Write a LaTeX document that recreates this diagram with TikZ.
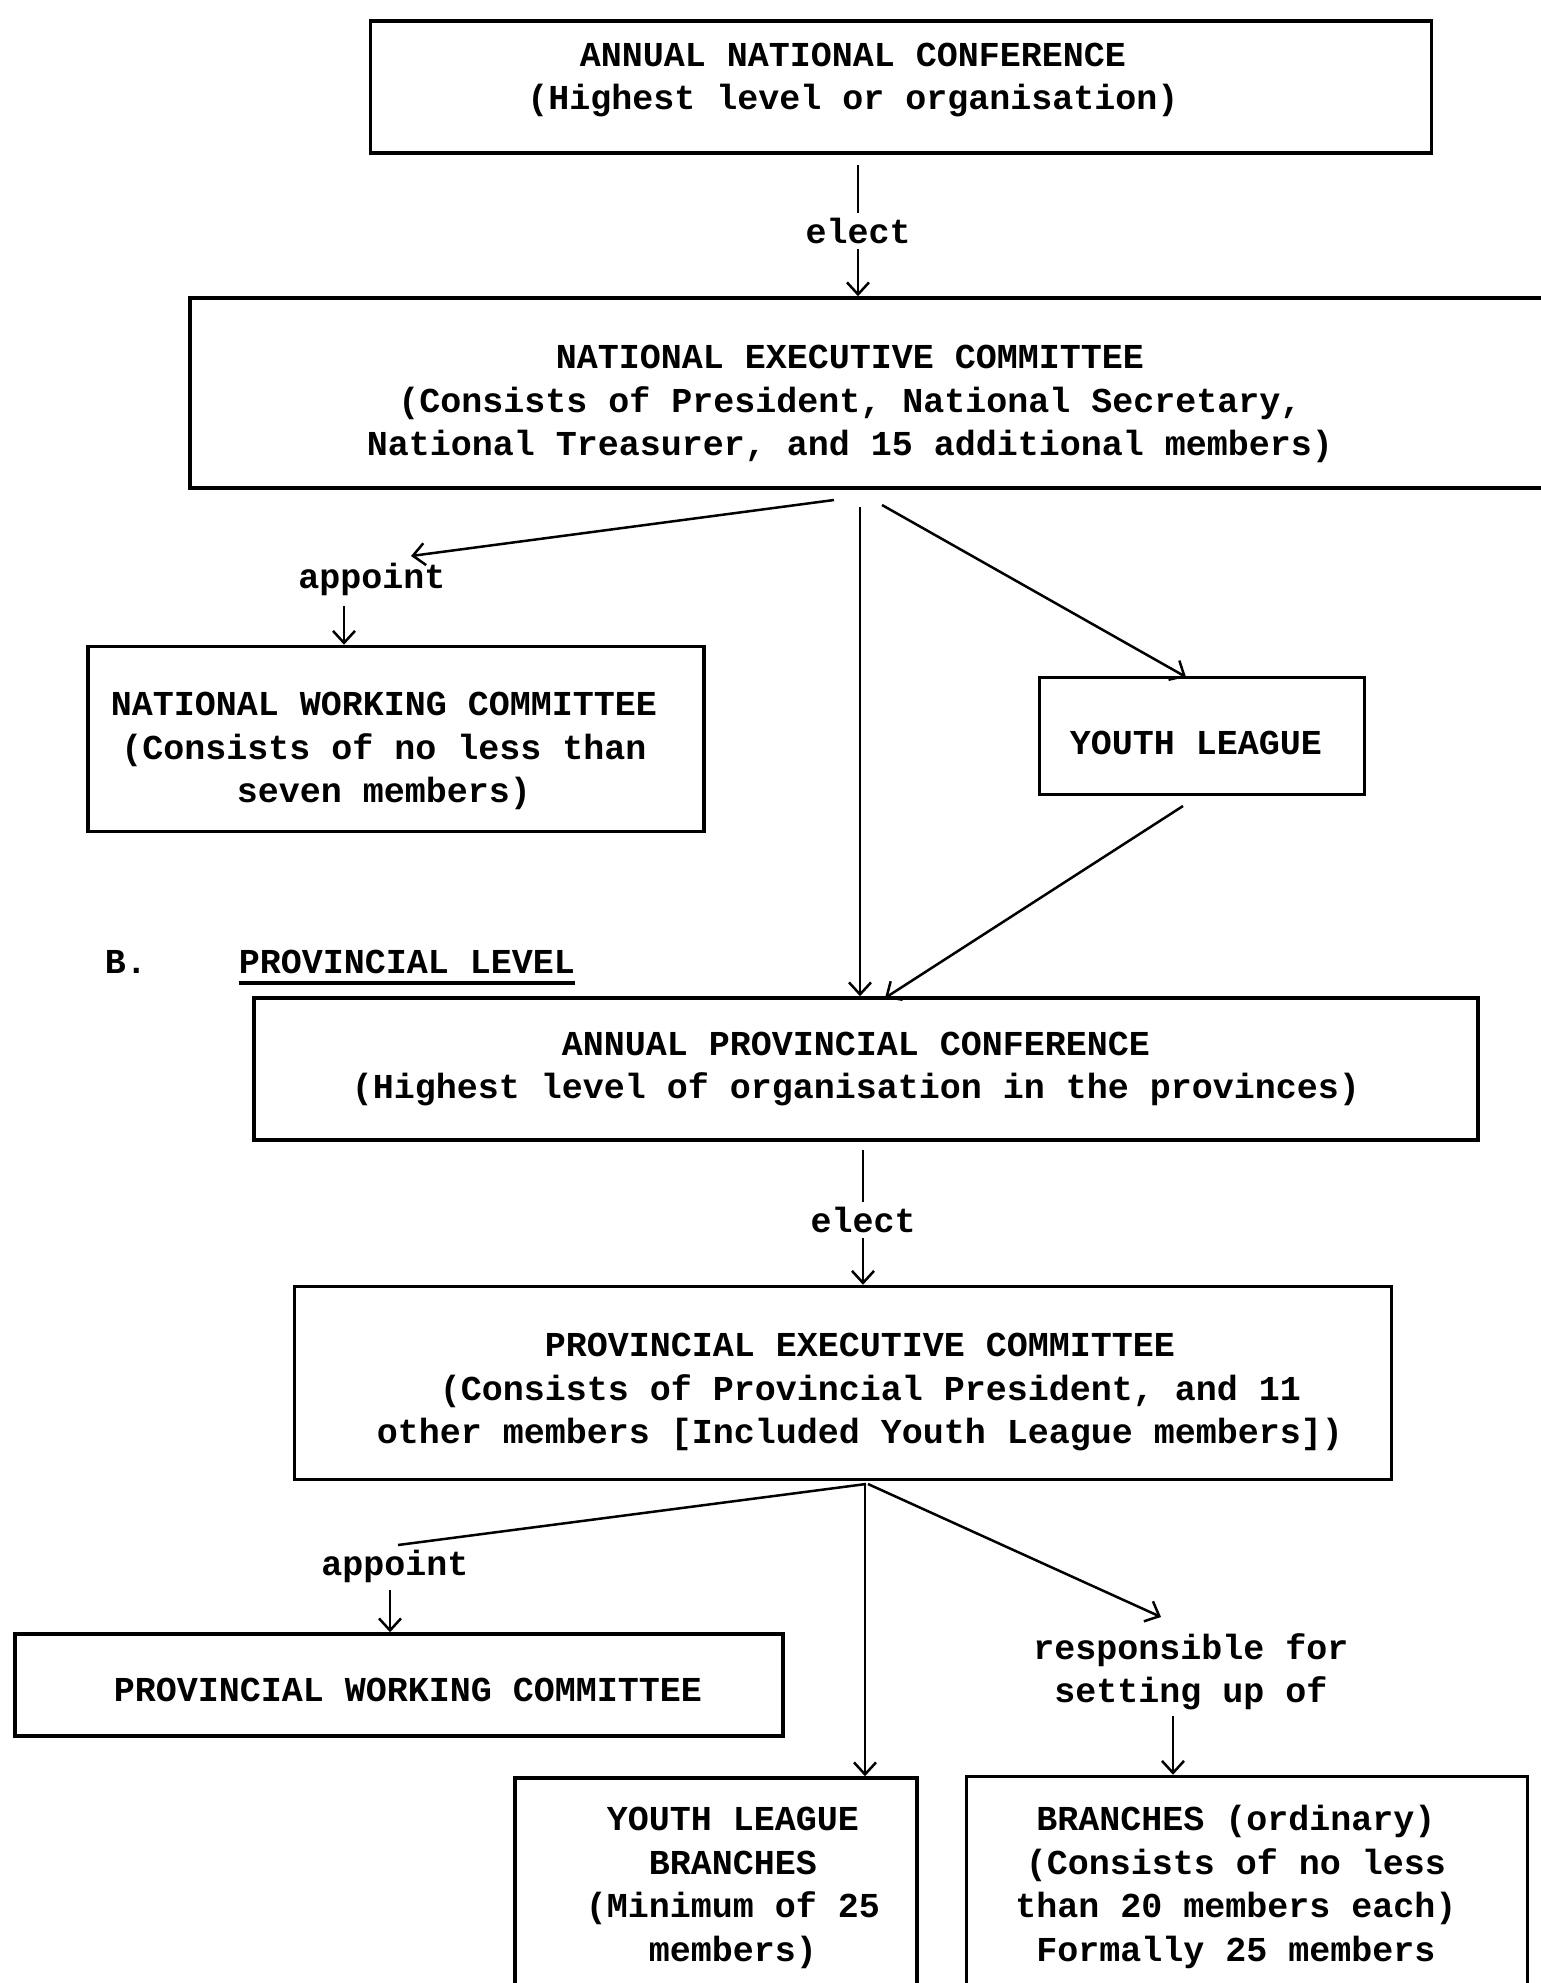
\documentclass[tikz,border=0pt]{standalone}
\usepackage{fontspec}
\newfontfamily\typefont{Liberation Mono}
\usetikzlibrary{arrows.meta, calc, positioning}
\newcommand{\orgfont}{\typefont\bfseries\fontsize{35}{43.5}\selectfont}
\tikzset{
    orgBox/.style={draw, rectangle, line width=3.5pt, inner sep=0pt},
    orgText/.style={font=\orgfont, align=center, inner sep=0pt},
    orgLabel/.style={font=\orgfont, align=center, inner sep=5pt},
    orgLine/.style={line width=2.5pt},
    orgEdge/.style={-{Straight Barb[length=12pt, width=22pt, line width=2.5pt]}, line width=2.5pt},
}
% box with its own text node: name, centre, width, height, text centre, text
\newcommand{\orgUnit}[6]{
    \node[orgBox, minimum width=#3pt, minimum height=#4pt] (#1) at (#2) {};
    \node[orgText] (#1T) at (#5) {#6};
}
\begin{document}
\begin{tikzpicture}[x=1pt, y=-1pt]
        \useasboundingbox (0,0) rectangle (1541,1983);

        % national level
        \orgUnit{anc}{901,87}{1061}{132}{853,80}{ANNUAL NATIONAL CONFERENCE\\(Highest level or organisation)}
        \orgUnit{nec}{875,393}{1370}{190}{850,404}{NATIONAL EXECUTIVE COMMITTEE\\(Consists of President, National Secretary,\\National Treasurer, and 15 additional members)}
        \orgUnit{nwc}{396,739}{616}{185}{384,751}{NATIONAL WORKING COMMITTEE\\(Consists of no less than\\seven members)}
        \orgUnit{yl}{1202,736}{325}{117}{1196,743}{YOUTH LEAGUE}

        \node[orgLabel] (elect1) at (858,231) {elect};
        \node[orgLabel] (appoint1) at (372,579) {appoint};

        \coordinate (ancOut) at (858,165);
        \coordinate (necOut1) at (834,500);
        \coordinate (necOut2) at (860,507);
        \coordinate (necOut3) at (882,505);
        \coordinate (appIn1) at (411,556);
        \coordinate (appOut1) at (344,606);
        \coordinate (ylIn) at (1186,677);
        \coordinate (ylOut) at (1183,806);
        \coordinate (apcIn) at (885,998);

        \draw[orgLine] (ancOut) -- (elect1.north);
        \draw[orgEdge] (elect1.south) -- (elect1.south |- nec.north);
        \draw[orgEdge] (necOut1) -- (appIn1);
        \draw[orgEdge] (appOut1) -- (appOut1 |- nwc.north);
        \draw[orgEdge] (necOut3) -- (ylIn);

        % provincial level
        \node[orgText] (secB) at (126,962) {B.};
        \node[orgText] (secBT) at (407,962) {PROVINCIAL LEVEL};
        \draw[line width=3.5pt] ([yshift=-9pt]secBT.south west) -- ([yshift=-9pt]secBT.south east);

        \orgUnit{apc}{866,1069}{1224}{142}{856,1069}{ANNUAL PROVINCIAL CONFERENCE\\(Highest level of organisation in the provinces)}
        \orgUnit{pec}{843,1383}{1097}{193}{860,1392}{PROVINCIAL EXECUTIVE COMMITTEE\\\ (Consists of Provincial President, and 11\\other members [Included Youth League members])}
        \orgUnit{pwc}{399,1685}{768}{102}{408,1690}{PROVINCIAL WORKING COMMITTEE}
        \orgUnit{ylb}{716,1899}{402}{242}{733,1888}{YOUTH LEAGUE\\BRANCHES\\(Minimum of 25\\members)}
        \orgUnit{br}{1247,1898}{561}{243}{1236,1887}{BRANCHES (ordinary)\\(Consists of no less\\than 20 members each)\\Formally 25 members}

        \draw[orgEdge] (necOut2) -- (necOut2 |- apc.north);
        \draw[orgEdge] (ylOut) -- (apcIn);

        \node[orgLabel] (elect2) at (863,1220) {elect};
        \node[orgLabel] (appoint2) at (395,1566) {appoint};
        \node[orgLabel] (resp) at (1191,1672) {responsible for\\setting up of};

        \coordinate (apcOut) at (863,1150);
        \coordinate (pecOut1) at (866,1484);
        \coordinate (pecOut2) at (865,1484);
        \coordinate (pecOut3) at (868,1484);
        \coordinate (appIn2) at (398,1545);
        \coordinate (appOut2) at (390,1590);
        \coordinate (respIn) at (1161,1617);
        \coordinate (respOut) at (1173,1716);

        \draw[orgLine] (apcOut) -- (elect2.north);
        \draw[orgEdge] (elect2.south) -- (elect2.south |- pec.north);
        \draw[orgLine] (pecOut1) -- (appIn2);
        \draw[orgEdge] (appOut2) -- (appOut2 |- pwc.north);
        \draw[orgEdge] (pecOut2) -- (pecOut2 |- ylb.north);
        \draw[orgEdge] (pecOut3) -- (respIn);
        \draw[orgEdge] (respOut) -- (respOut |- br.north);

    \end{tikzpicture}
\end{document}
